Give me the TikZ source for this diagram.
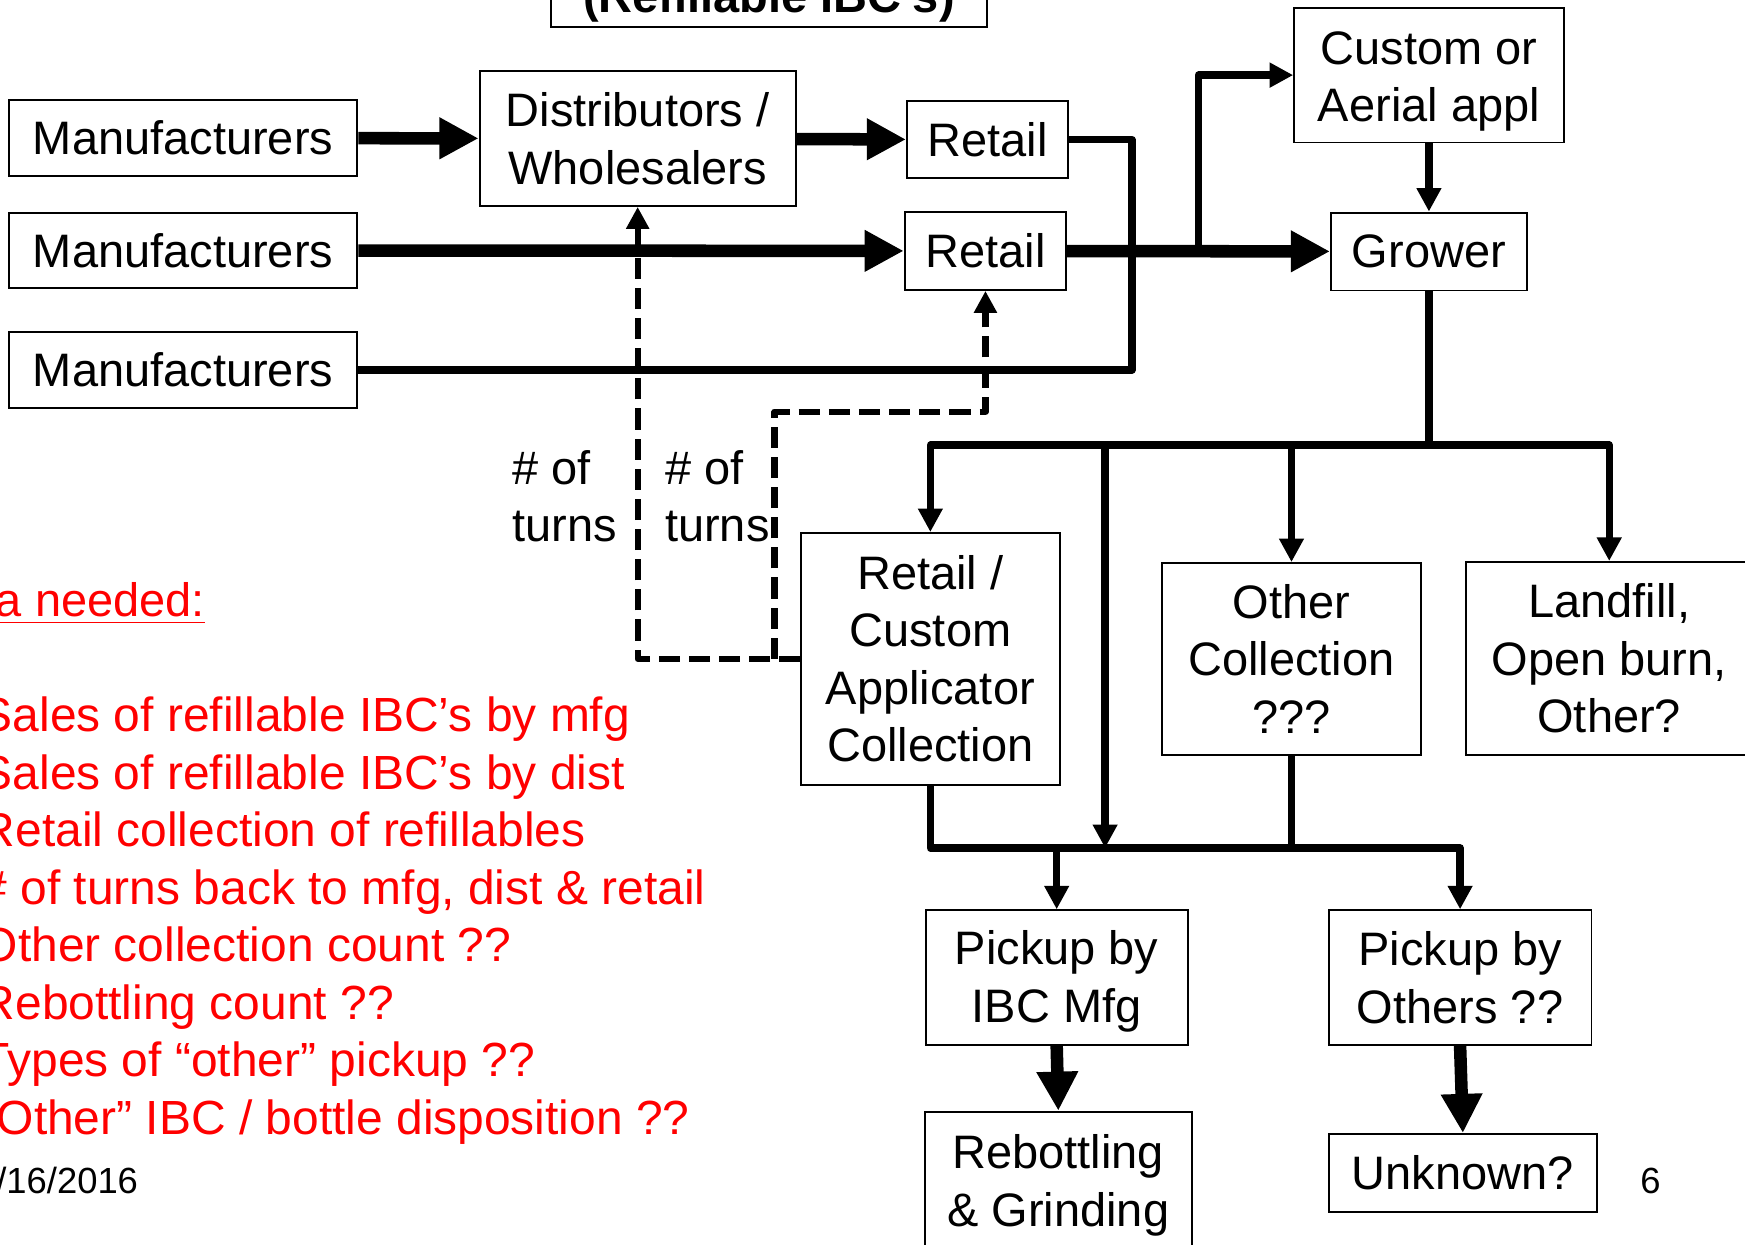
\documentclass[tikz,border=0pt]{standalone}
\usepackage{fontspec}
\setmainfont{Liberation Sans}
\usetikzlibrary{arrows.meta}
\newcommand{\boxfont}{\fontsize{12}{14.65}\selectfont}
\newcommand{\notefont}{\fontsize{12.25}{14.68}\selectfont}
\newcommand{\smallfont}{\fontsize{9.3}{11}\selectfont}
\tikzset{
  >={Triangle[length=6pt,width=6pt]},
}
\tikzstyle{box}=[draw,line width=.5pt,align=center,inner sep=0pt,font=\boxfont]
\tikzstyle{flow}=[line width=3.2pt,-{Triangle[length=10pt,width=10pt]}]
\tikzstyle{link}=[line width=1.9pt,line join=round,->]
\tikzstyle{feed}=[line width=1.9pt,line join=round]
\tikzstyle{turns}=[line width=1.6pt,line join=round,dash pattern=on 5.4pt off 2.3pt,-{Triangle[length=5.6pt,width=5.6pt]}]
\tikzstyle{note}=[red,align=left,inner sep=0pt,font=\notefont]

\begin{document}
\begin{tikzpicture}[x=0.01cm,y=-0.01cm]
    \useasboundingbox (0,0) rectangle (1568,1118);
    \clip (0,0) rectangle (1568,1118);
    % boxes
    \node[box,font=\boxfont\bfseries,minimum width=3.92cm,anchor=south,inner ysep=3.7pt,text depth=0pt] (title) at (691,25) {(Refillable IBC's)};
    \node[box,minimum width=3.13cm,minimum height=.68cm] (m1) at (164.5,124) {Manufacturers};
    \node[box,minimum width=3.13cm,minimum height=.68cm] (m2) at (164.5,225) {Manufacturers};
    \node[box,minimum width=3.13cm,minimum height=.69cm] (m3) at (164.5,332.5) {Manufacturers};
    \node[box,minimum width=2.84cm,minimum height=1.21cm] (dist) at (573,124.5) {Distributors /\\Wholesalers};
    \node[box,minimum width=1.45cm,minimum height=.69cm] (ret1) at (887.5,125.5) {Retail};
    \node[box,minimum width=1.45cm,minimum height=.70cm] (ret2) at (885.5,225.5) {Retail};
    \node[box,minimum width=2.42cm,minimum height=1.21cm] (cust) at (1284,67.5) {\rule{0pt}{11.6pt}Custom or\\Aerial appl};
    \node[box,minimum width=1.76cm,minimum height=.70cm] (grow) at (1284,226) {Grower};
    \node[box,minimum width=2.32cm,minimum height=2.26cm] (rcac) at (836,592) {Retail /\\Custom\\Applicator\\Collection};
    \node[box,minimum width=2.33cm,minimum height=1.72cm] (othc) at (1160.5,592) {Other\\Collection\\???};
    \node[box,minimum width=2.58cm,minimum height=1.73cm] (land) at (1446,591.5) {Landfill,\\Open burn,\\Other?};
    \node[box,minimum width=2.35cm,minimum height=1.21cm] (pim) at (949.5,878.5) {\rule{0pt}{10.5pt}Pickup by\\IBC Mfg};
    \node[box,minimum width=2.36cm,minimum height=1.21cm] (pot) at (1312,878.5) {Pickup by\\Others ??};
    \node[box,minimum width=2.40cm,minimum height=1.26cm] (rebo) at (951,1062) {\rule{0pt}{10.5pt}Rebottling\\\& Grinding};
    \node[box,minimum width=2.41cm,minimum height=.70cm] (unk) at (1314.5,1054) {Unknown?};
    % labels
    \node[anchor=base west,align=left,inner sep=0pt,font=\boxfont] (turns1) at (460,487) {\# of\\turns};
    \node[anchor=base west,align=left,inner sep=0pt,font=\boxfont] (turns2) at (597,487) {\# of\\turns};
    \node[note,font=\boxfont,anchor=base west] (need) at (-70,554) {\underline{Data needed:}};
    \node[note,anchor=base west] (list) at (-18,1019) {Sales of refillable IBC's by mfg\\Sales of refillable IBC's by dist\\Retail collection of refillables\\\# of turns back to mfg, dist \& retail\\Other collection count ??\\Rebottling count ??\\Types of ``other'' pickup ??\\``Other'' IBC / bottle disposition ??};
    \node[anchor=base west,inner sep=0pt,font=\smallfont] (date) at (-4,1072) {/16/2016};
    \node[anchor=base,inner sep=0pt,font=\smallfont] (page) at (1483,1072) {6};
    % flows
    \draw[flow] (m1) -- (dist);
    \draw[flow] (dist) -- (ret1);
    \draw[flow] (m2) -- (ret2);
    \coordinate (mj) at (1017,332.5);
    \draw[feed] (ret1.east) -| (mj) -- (m3.east);
    \draw[flow] (ret2) -- (grow);
    \coordinate (cj) at (1077,226);
    \draw[link] (cj) |- (cust.west);
    \draw[link] (cust) -- (grow);
    \coordinate (gj) at (1284,400);
    \draw[link] (grow.south) -- (gj) -| (rcac.north);
    \draw[link] (gj) -| (land.north);
    \draw[link] (othc.north |- gj) -- (othc.north);
    \coordinate (bj) at (993,762);
    \draw[link] (bj |- gj) -- (bj);
    \draw[link] (rcac.south) |- (pot.north |- bj) -- (pot.north);
    \draw[link] (pim.north |- bj) -- (pim.north);
    \draw[feed] (othc.south) -- (othc.south |- bj);
    \draw[flow] (pim.south) -- (rebo.north);
    \draw[flow] (pot.south) -- (unk.north);
    % turns back
    \coordinate (tj) at (696,592);
    \coordinate (tk) at (696,370);
    \draw[turns] (rcac.west) -| (dist.south);
    \draw[turns] (tj) -- (tk) -| (ret2.south);
\end{tikzpicture}
\end{document}
